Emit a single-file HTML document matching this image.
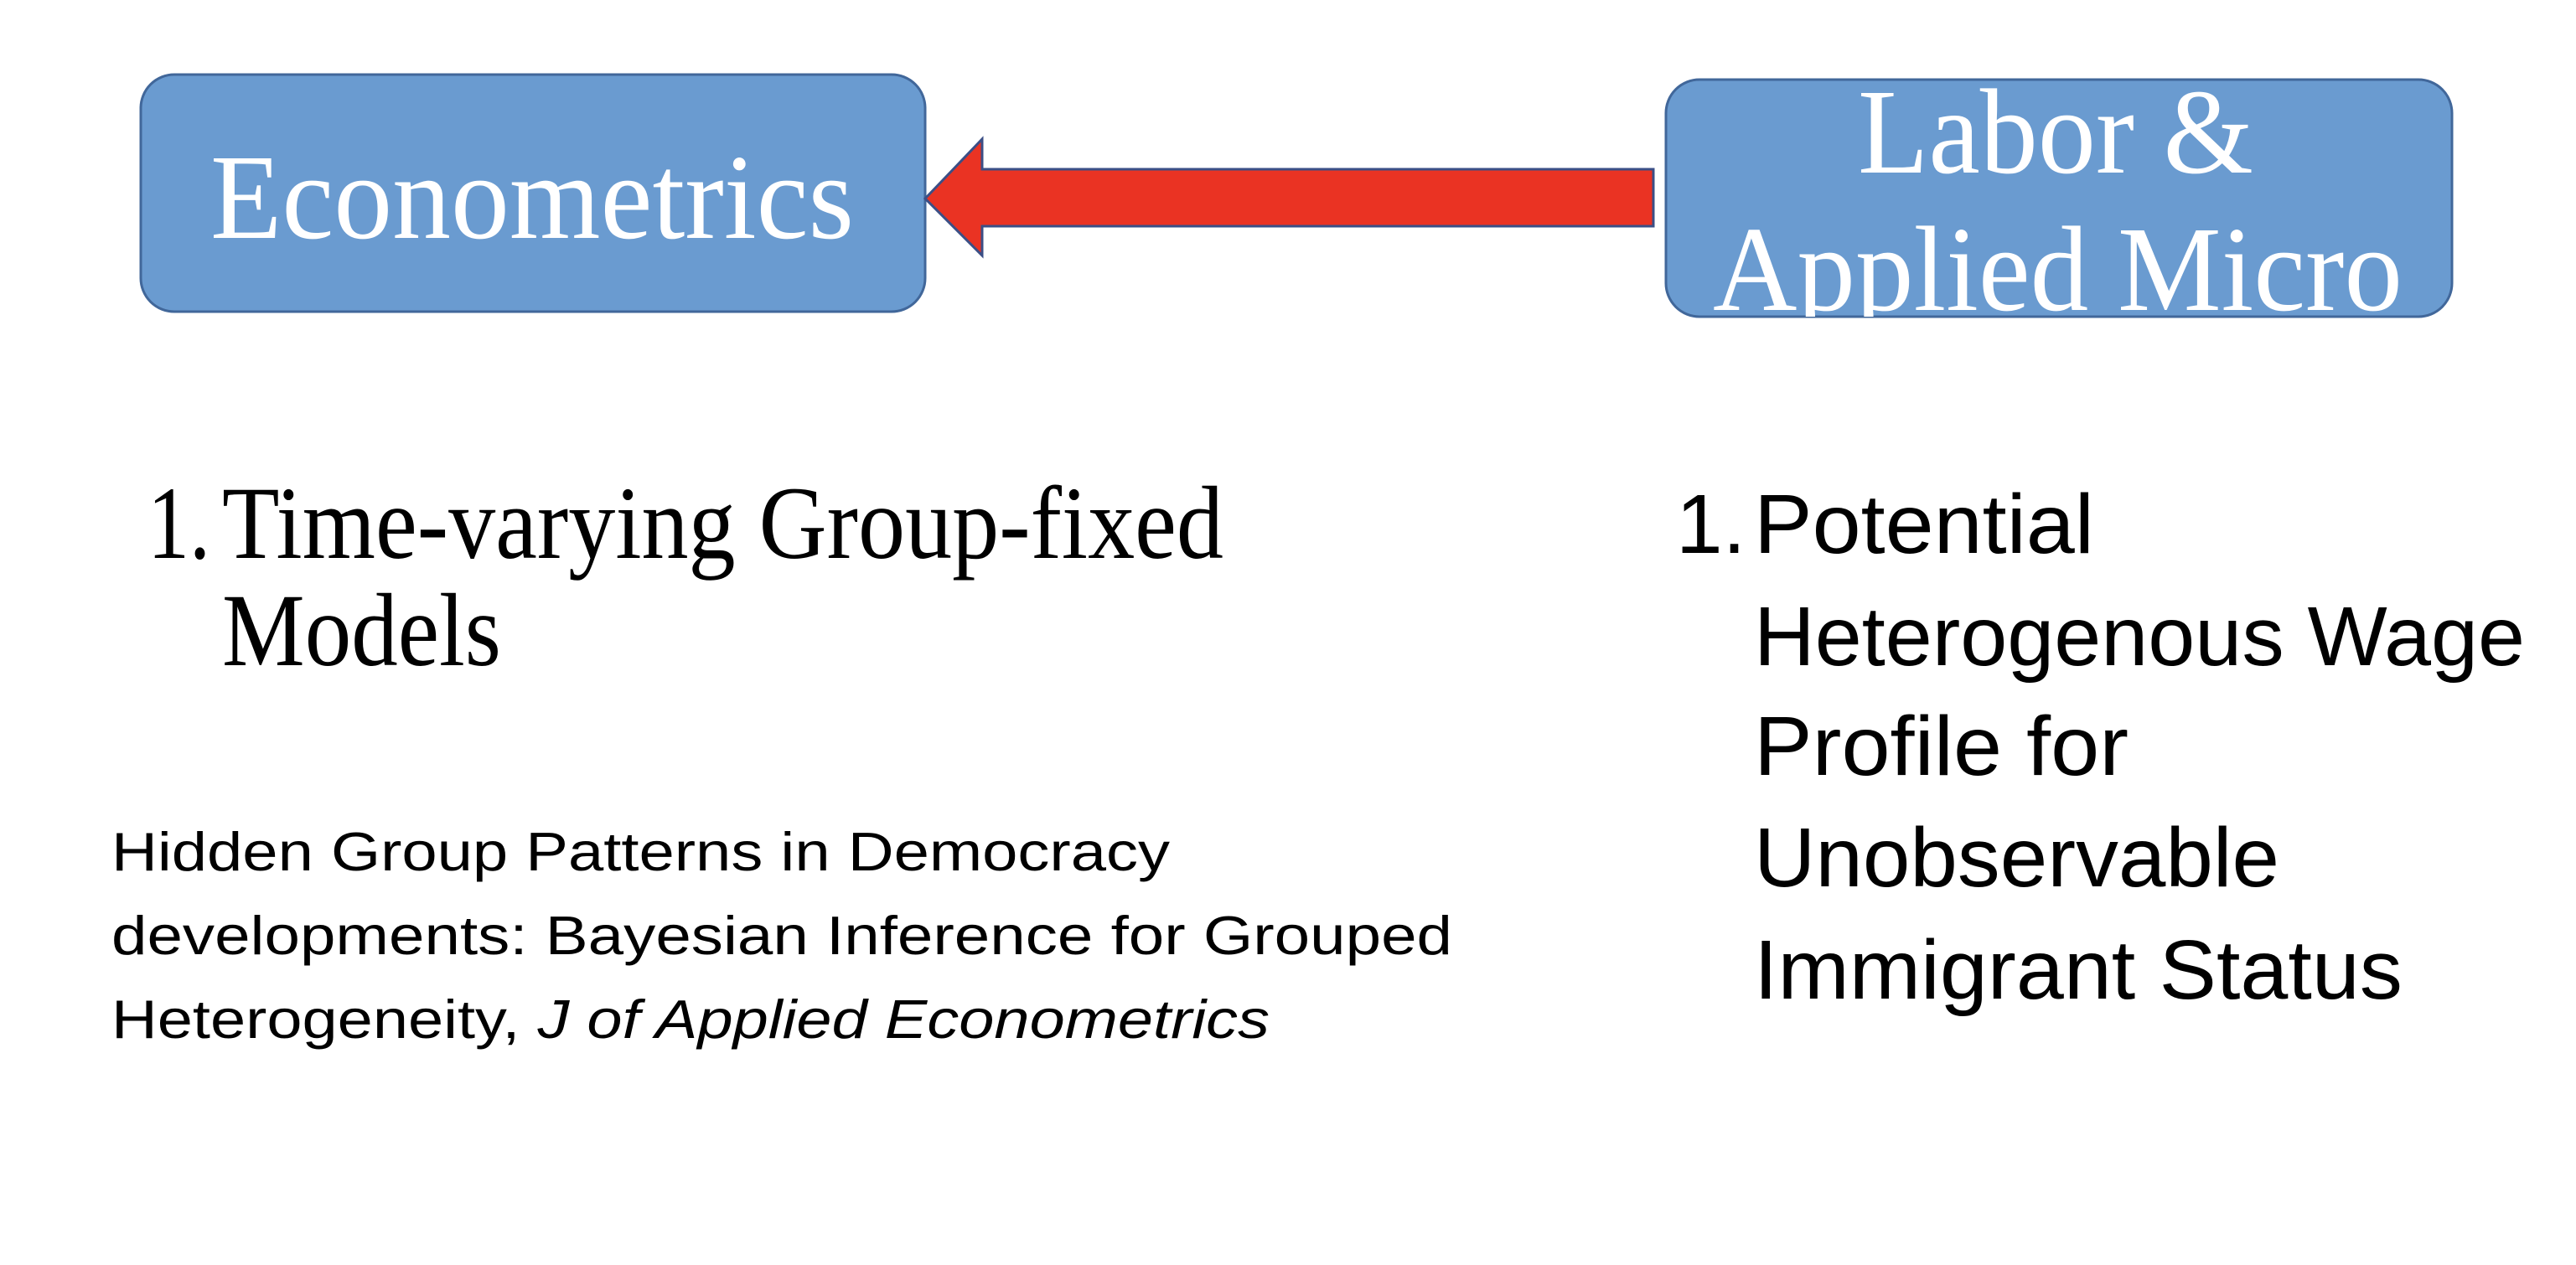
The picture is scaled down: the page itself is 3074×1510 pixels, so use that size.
<!DOCTYPE html>
<html><head><meta charset="utf-8"><style>
html,body{margin:0;padding:0;background:#fff;width:3074px;height:1510px;overflow:hidden}
</style></head><body>
<svg width="3074" height="1510" viewBox="0 0 3074 1510" xmlns="http://www.w3.org/2000/svg">
<defs>
<clipPath id="cr"><rect x="1988" y="95" width="938" height="283" rx="40"/></clipPath>
</defs>
<rect x="168" y="89" width="936" height="283" rx="40" fill="#6a9bd0" stroke="#41679a" stroke-width="3"/>
<rect x="1988" y="95" width="938" height="283" rx="40" fill="#6a9bd0" stroke="#41679a" stroke-width="3"/>
<polygon points="1104,237 1172,166 1172,202 1973,202 1973,270 1172,270 1172,305" fill="#ea3323" stroke="#3b4f86" stroke-width="3"/>
<g font-family="Liberation Serif, serif" fill="#fff" font-size="145">
<text x="251" y="284" textLength="768" lengthAdjust="spacingAndGlyphs">Econometrics</text>
<g clip-path="url(#cr)">
<text x="2217" y="206" textLength="472" lengthAdjust="spacingAndGlyphs">Labor &amp;</text>
<text x="2044" y="370" textLength="823" lengthAdjust="spacingAndGlyphs">Applied Micro</text>
</g>
</g>
<g font-family="Liberation Serif, serif" fill="#000" font-size="124">
<text x="176" y="666" textLength="75" lengthAdjust="spacingAndGlyphs">1.</text>
<text x="265" y="666" textLength="1195" lengthAdjust="spacingAndGlyphs">Time-varying Group-fixed</text>
<text x="265" y="794" textLength="333" lengthAdjust="spacingAndGlyphs">Models</text>
</g>
<g font-family="Liberation Sans, sans-serif" fill="#000" font-size="65">
<text x="133" y="1039" textLength="1263" lengthAdjust="spacingAndGlyphs">Hidden Group Patterns in Democracy</text>
<text x="133" y="1139" textLength="1600" lengthAdjust="spacingAndGlyphs">developments: Bayesian Inference for Grouped</text>
<text x="133" y="1239" textLength="1382" lengthAdjust="spacingAndGlyphs">Heterogeneity, <tspan font-style="italic">J of Applied Econometrics</tspan></text>
</g>
<g font-family="Liberation Sans, sans-serif" fill="#000" font-size="100">
<text x="2000" y="660">1.</text>
<text x="2093" y="660" textLength="406" lengthAdjust="spacingAndGlyphs">Potential</text>
<text x="2093" y="794" textLength="920" lengthAdjust="spacingAndGlyphs">Heterogenous Wage</text>
<text x="2093" y="925" textLength="447" lengthAdjust="spacingAndGlyphs">Profile for</text>
<text x="2093" y="1058" textLength="627" lengthAdjust="spacingAndGlyphs">Unobservable</text>
<text x="2093" y="1192" textLength="774" lengthAdjust="spacingAndGlyphs">Immigrant Status</text>
</g>
</svg>
</body></html>
